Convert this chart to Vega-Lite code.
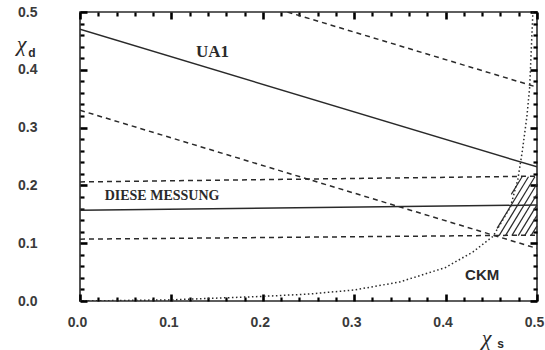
{
  "$schema": "https://vega.github.io/schema/vega-lite/v6.json",
  "autosize": "none",
  "width": 457,
  "height": 289,
  "padding": {"left": 80, "top": 12, "right": 8, "bottom": 49},
  "background": "white",
  "config": {
    "view": {"stroke": "#2a2a2a", "strokeWidth": 1.6},
    "axis": {"domain": false, "grid": false, "labelFont": "Liberation Sans", "labelFontWeight": "bold", "labelFontSize": 14, "labelColor": "#3a3a3a", "labelFlush": false, "labelOverlap": false, "labelBound": false, "titleColor": "#2a2a2a"}
  },
  "datasets": {
    "solid": [
      {"series": "UA1", "x": 0, "y": 0.47},
      {"series": "UA1", "x": 0.5, "y": 0.232},
      {"series": "DIESE MESSUNG", "x": 0, "y": 0.157},
      {"series": "DIESE MESSUNG", "x": 0.5, "y": 0.166}
    ],
    "dashed": [
      {"series": "UA1 oben", "x": 0.227, "y": 0.5},
      {"series": "UA1 oben", "x": 0.5, "y": 0.37},
      {"series": "UA1 unten", "x": 0, "y": 0.33},
      {"series": "UA1 unten", "x": 0.5, "y": 0.091},
      {"series": "Messung oben", "x": 0, "y": 0.206},
      {"series": "Messung oben", "x": 0.5, "y": 0.216},
      {"series": "Messung unten", "x": 0, "y": 0.107},
      {"series": "Messung unten", "x": 0.5, "y": 0.114}
    ],
    "ckm": [
      {"x": 0, "y": 0},
      {"x": 0.1, "y": 0.002},
      {"x": 0.2, "y": 0.008},
      {"x": 0.25, "y": 0.012},
      {"x": 0.3, "y": 0.019},
      {"x": 0.35, "y": 0.033},
      {"x": 0.4, "y": 0.058},
      {"x": 0.43, "y": 0.085},
      {"x": 0.452, "y": 0.112},
      {"x": 0.471, "y": 0.163},
      {"x": 0.479, "y": 0.21},
      {"x": 0.484, "y": 0.26},
      {"x": 0.489, "y": 0.32},
      {"x": 0.492, "y": 0.37},
      {"x": 0.4955, "y": 0.5}
    ],
    "hatch": [
      {"x": 0.4719, "y": 0.1844, "x2": 0.4837, "y2": 0.215},
      {"x": 0.4563, "y": 0.1256, "x2": 0.4907, "y2": 0.215},
      {"x": 0.4585, "y": 0.113, "x2": 0.4977, "y2": 0.215},
      {"x": 0.4655, "y": 0.113, "x2": 0.5, "y2": 0.2028},
      {"x": 0.4725, "y": 0.113, "x2": 0.5, "y2": 0.1846},
      {"x": 0.4795, "y": 0.113, "x2": 0.5, "y2": 0.1664},
      {"x": 0.4865, "y": 0.113, "x2": 0.5, "y2": 0.1482},
      {"x": 0.4935, "y": 0.113, "x2": 0.5, "y2": 0.1299}
    ]
  },
  "layer": [
    {
      "data": {"name": "solid"},
      "mark": {"type": "line", "color": "#2a2a2a", "strokeWidth": 1.5, "clip": true},
      "encoding": {
        "x": {"field": "x", "type": "quantitative", "scale": {"domain": [0, 0.5], "nice": false},
          "axis": {"orient": "bottom", "values": [0, 0.1, 0.2, 0.3, 0.4, 0.5], "format": ".1f", "ticks": true, "tickColor": "black", "tickWidth": 2.6, "offset": -7, "tickSize": 7, "labelPadding": 14, "labelOffset": -3,
            "title": "χ", "titleX": 406, "titleY": 43, "titleFont": "Liberation Serif", "titleFontStyle": "italic", "titleFontSize": 22, "titleFontWeight": "normal", "titleAlign": "center", "titleBaseline": "middle"}},
        "y": {"field": "y", "type": "quantitative", "scale": {"domain": [0, 0.5], "nice": false},
          "axis": {"orient": "left", "values": [0, 0.1, 0.2, 0.3, 0.4, 0.5], "format": ".1f", "ticks": true, "tickColor": "black", "tickWidth": 2.6, "offset": -7, "tickSize": 7, "labelPadding": 43,
            "title": "χ", "titleX": -66, "titleY": 31, "titleAngle": 0, "titleFont": "Liberation Serif", "titleFontStyle": "italic", "titleFontSize": 22, "titleFontWeight": "normal", "titleAlign": "center", "titleBaseline": "middle"}},
        "detail": {"field": "series"}
      }
    },
    {
      "data": {"name": "dashed"},
      "mark": {"type": "line", "color": "#2a2a2a", "strokeWidth": 1.5, "strokeDash": [5, 4], "clip": true},
      "encoding": {
        "x": {"field": "x", "type": "quantitative", "scale": {"domain": [0, 0.5], "nice": false},
          "axis": {"orient": "bottom", "values": [0.02, 0.04, 0.06, 0.08, 0.12, 0.14, 0.16, 0.18, 0.22, 0.24, 0.26, 0.28, 0.32, 0.34, 0.36, 0.38, 0.42, 0.44, 0.46, 0.48], "ticks": true, "tickColor": "black", "tickWidth": 2.2, "offset": -4, "tickSize": 4, "labels": false,
            "title": "s", "titleX": 420, "titleY": 46, "titleFont": "Liberation Sans", "titleFontSize": 12, "titleFontWeight": "bold", "titleAlign": "center", "titleBaseline": "middle"}},
        "y": {"field": "y", "type": "quantitative", "scale": {"domain": [0, 0.5], "nice": false},
          "axis": {"orient": "left", "values": [0.02, 0.04, 0.06, 0.08, 0.12, 0.14, 0.16, 0.18, 0.22, 0.24, 0.26, 0.28, 0.32, 0.34, 0.36, 0.38, 0.42, 0.44, 0.46, 0.48], "ticks": true, "tickColor": "black", "tickWidth": 2.2, "offset": -4, "tickSize": 4, "labels": false,
            "title": "d", "titleX": -52.5, "titleY": 40, "titleAngle": 0, "titleFont": "Liberation Sans", "titleFontSize": 12, "titleFontWeight": "bold", "titleAlign": "center", "titleBaseline": "middle"}},
        "detail": {"field": "series"}
      }
    },
    {
      "data": {"name": "ckm"},
      "mark": {"type": "line", "color": "#2a2a2a", "strokeWidth": 1.5, "strokeDash": [1.5, 2.5], "clip": true},
      "encoding": {
        "x": {"field": "x", "type": "quantitative", "scale": {"domain": [0, 0.5], "nice": false},
          "axis": {"orient": "top", "values": [0, 0.1, 0.2, 0.3, 0.4, 0.5], "ticks": true, "tickColor": "black", "tickWidth": 2.6, "offset": -7, "tickSize": 7, "labels": false, "title": null}},
        "y": {"field": "y", "type": "quantitative", "scale": {"domain": [0, 0.5], "nice": false},
          "axis": {"orient": "right", "values": [0, 0.1, 0.2, 0.3, 0.4, 0.5], "ticks": true, "tickColor": "black", "tickWidth": 2.6, "offset": -7, "tickSize": 7, "labels": false, "title": null}}
      }
    },
    {
      "data": {"name": "hatch"},
      "mark": {"type": "rule", "color": "#2a2a2a", "strokeWidth": 1.2},
      "encoding": {
        "x": {"field": "x", "type": "quantitative", "scale": {"domain": [0, 0.5], "nice": false},
          "axis": {"orient": "top", "values": [0.02, 0.04, 0.06, 0.08, 0.12, 0.14, 0.16, 0.18, 0.22, 0.24, 0.26, 0.28, 0.32, 0.34, 0.36, 0.38, 0.42, 0.44, 0.46, 0.48], "ticks": true, "tickColor": "black", "tickWidth": 2.2, "offset": -4, "tickSize": 4, "labels": false, "title": null}},
        "y": {"field": "y", "type": "quantitative", "scale": {"domain": [0, 0.5], "nice": false},
          "axis": {"orient": "right", "values": [0.02, 0.04, 0.06, 0.08, 0.12, 0.14, 0.16, 0.18, 0.22, 0.24, 0.26, 0.28, 0.32, 0.34, 0.36, 0.38, 0.42, 0.44, 0.46, 0.48], "ticks": true, "tickColor": "black", "tickWidth": 2.2, "offset": -4, "tickSize": 4, "labels": false, "title": null}},
        "x2": {"field": "x2"},
        "y2": {"field": "y2"}
      }
    },
    {
      "data": {"values": [{"label": "UA1", "x": 0.145, "y": 0.431}]},
      "mark": {"type": "text", "font": "Liberation Serif", "fontSize": 17, "fontWeight": "bold", "color": "#2a2a2a", "align": "center", "baseline": "middle"},
      "encoding": {
        "x": {"field": "x", "type": "quantitative", "axis": null},
        "y": {"field": "y", "type": "quantitative", "axis": null},
        "text": {"field": "label"}
      }
    },
    {
      "data": {"values": [{"label": "DIESE MESSUNG", "x": 0.027, "y": 0.182}]},
      "mark": {"type": "text", "font": "Liberation Serif", "fontSize": 14, "fontWeight": "bold", "color": "#2a2a2a", "align": "left", "baseline": "middle"},
      "encoding": {
        "x": {"field": "x", "type": "quantitative", "axis": null},
        "y": {"field": "y", "type": "quantitative", "axis": null},
        "text": {"field": "label"}
      }
    },
    {
      "data": {"values": [{"label": "CKM", "x": 0.44, "y": 0.045}]},
      "mark": {"type": "text", "font": "Liberation Sans", "fontSize": 15, "fontWeight": "bold", "color": "#2a2a2a", "align": "center", "baseline": "middle"},
      "encoding": {
        "x": {"field": "x", "type": "quantitative", "axis": null},
        "y": {"field": "y", "type": "quantitative", "axis": null},
        "text": {"field": "label"}
      }
    }
  ],
  "resolve": {"axis": {"x": "independent", "y": "independent"}}
}
